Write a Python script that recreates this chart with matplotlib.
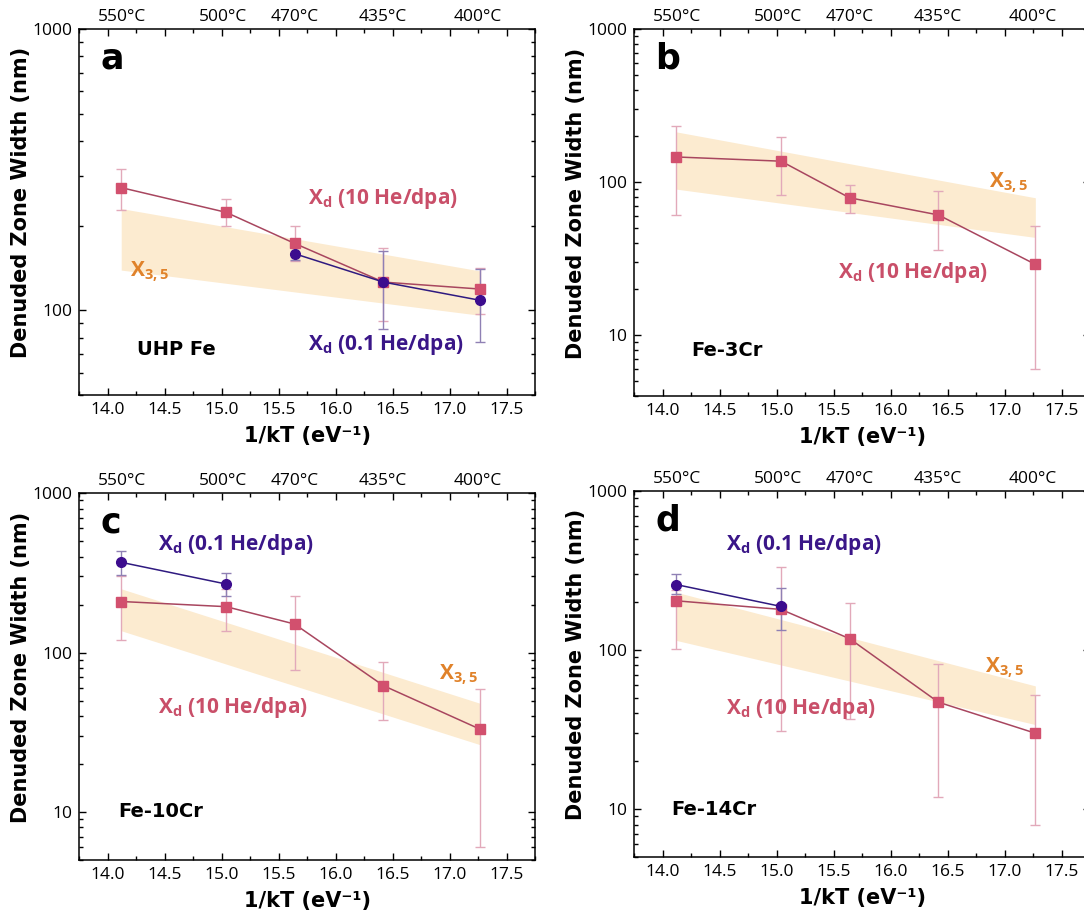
import numpy as np
import matplotlib
matplotlib.use("Agg")
import matplotlib.pyplot as plt
from matplotlib.ticker import LogLocator, FuncFormatter, NullFormatter, MultipleLocator

plt.rcParams["font.family"] = ["Open Sans", "DejaVu Sans"]
plt.rcParams["mathtext.fontset"] = "custom"
plt.rcParams["mathtext.rm"] = "Open Sans:bold"
plt.rcParams["mathtext.it"] = "Open Sans:bold"
plt.rcParams["mathtext.bf"] = "Open Sans:bold"
HEAVY = ["DejaVu Sans"]

# ---- data (1/kT in eV^-1, widths in nm) ----
x_all = [14.12, 15.04, 15.64, 16.42, 17.27]
temp_pos = [14.13, 15.01, 15.64, 16.41, 17.25]
temp_labels = ["550°C", "500°C", "470°C", "435°C", "400°C"]
band_x = [14.12, 17.27]

# a: UHP Fe
a_red = [273, 223, 173, 126, 119]
a_red_lo = [228, 199, 150, 92, 97]
a_red_hi = [317, 249, 199, 166, 141]
a_blue_x = [15.64, 16.42, 17.27]
a_blue = [159, 126, 108.5]
a_blue_lo = [151, 86, 77]
a_blue_hi = [168, 162, 140]
a_band_hi = [230, 138]
a_band_lo = [139, 96]

# b: Fe-3Cr
b_red = [146, 137, 79, 61, 29]
b_red_lo = [61, 82, 63, 36, 6]
b_red_hi = [231, 196, 96, 87, 52]
b_band_hi = [213, 79]
b_band_lo = [90, 43.5]

# c: Fe-10Cr
c_red = [209, 194, 151, 62, 33]
c_red_lo = [120, 137, 78, 38, 6]
c_red_hi = [300, 250, 225, 87, 59]
c_blue_x = [14.12, 15.04]
c_blue = [368, 269]
c_blue_lo = [306, 226]
c_blue_hi = [435, 314]
c_band_hi = [251, 48]
c_band_lo = [137, 26.4]

# d: Fe-14Cr
d_red = [204, 180, 118, 47, 30]
d_red_lo = [102, 31, 37, 12, 8]
d_red_hi = [240, 331, 198, 82, 52]
d_blue_x = [14.12, 15.04]
d_blue = [258, 188]
d_blue_lo = [225, 133]
d_blue_hi = [302, 245]
d_band_hi = [231, 59.5]
d_band_lo = [115, 34]

RED_M = "#d2506e"
RED_L = "#a8465f"
RED_E = "#e2a9ba"
RED_T = "#c94f69"
BLUE_M = "#3c0c8e"
BLUE_L = "#2f1a80"
BLUE_E = "#8f80b4"
BLUE_T = "#3a1688"
ORANGE = "#e0822a"
BAND = "#fcebd0"


def errs(y, lo, hi):
    y = np.asarray(y, float)
    return [y - np.asarray(lo), np.asarray(hi) - y]


def panel(ax, letter, name, ylim, red, red_lo, red_hi, band_hi, band_lo,
          blue_x=None, blue=None, blue_lo=None, blue_hi=None):
    ax.set_yscale("log")
    ax.fill_between(band_x, band_lo, band_hi, color=BAND, lw=0, zorder=1)
    ax.errorbar(x_all, red, yerr=errs(red, red_lo, red_hi), fmt="none",
                ecolor=RED_E, elinewidth=1.0, capsize=3.5, capthick=1.0, zorder=2)
    if blue is not None:
        ax.errorbar(blue_x, blue, yerr=errs(blue, blue_lo, blue_hi), fmt="none",
                    ecolor=BLUE_E, elinewidth=1.0, capsize=3.5, capthick=1.0, zorder=2)
    ax.plot(x_all, red, color=RED_L, lw=1.1, marker="s", ms=6.5,
            mfc=RED_M, mec=RED_M, zorder=4)
    if blue is not None:
        ax.plot(blue_x, blue, color=BLUE_L, lw=1.1, marker="o", ms=7,
                mfc=BLUE_M, mec=BLUE_M, zorder=5)

    ax.set_xlim(13.75, 17.75)
    ax.set_ylim(*ylim)
    ax.xaxis.set_major_locator(MultipleLocator(0.5))
    ax.xaxis.set_minor_locator(MultipleLocator(0.25))
    ax.xaxis.set_major_formatter(FuncFormatter(lambda v, _: f"{v:.1f}"))
    ax.yaxis.set_major_locator(LogLocator(base=10))
    ax.yaxis.set_minor_locator(LogLocator(base=10, subs=np.arange(2, 10)))
    ax.yaxis.set_major_formatter(FuncFormatter(lambda v, _: f"{v:g}"))
    ax.yaxis.set_minor_formatter(NullFormatter())
    ax.tick_params(which="both", direction="in", top=True, right=True,
                   width=1.0, labelsize=12.5, pad=5)
    ax.tick_params(which="major", length=5)
    ax.tick_params(which="minor", length=3)
    for s in ax.spines.values():
        s.set_linewidth(1.1)

    sec = ax.secondary_xaxis("top")
    sec.set_xticks(temp_pos, labels=temp_labels)
    sec.tick_params(length=0, labelsize=12.5, pad=3)
    sec.spines["top"].set_visible(False)

    ax.set_xlabel("1/kT (eV⁻¹)", fontsize=15, fontweight="bold",
                  family=HEAVY, labelpad=6)
    ax.set_ylabel("Denuded Zone Width (nm)", fontsize=15, fontweight="bold",
                  family=HEAVY)
    ax.yaxis.set_label_coords(-0.105, 0.525)
    ax.text(0.046, 0.893, letter, transform=ax.transAxes, fontsize=25,
            fontweight="bold", family=HEAVY, ha="left", va="baseline")
    ax.text(name[1], name[2], name[0], transform=ax.transAxes, fontsize=14,
            fontweight="bold", family=HEAVY, ha="left", va="baseline")


fig = plt.figure(figsize=(10.84, 9.15), dpi=100)
ax_a = fig.add_axes([0.0729, 0.5683, 0.4207, 0.400])
ax_b = fig.add_axes([0.5849, 0.5672, 0.4207, 0.401])
ax_c = fig.add_axes([0.0729, 0.0601, 0.4207, 0.401])
ax_d = fig.add_axes([0.5849, 0.0634, 0.4207, 0.400])

panel(ax_a, "a", ("UHP Fe", 0.128, 0.109), (50, 1000), a_red, a_red_lo, a_red_hi,
      a_band_hi, a_band_lo, a_blue_x, a_blue, a_blue_lo, a_blue_hi)
panel(ax_b, "b", ("Fe-3Cr", 0.125, 0.109), (4, 1000), b_red, b_red_lo, b_red_hi,
      b_band_hi, b_band_lo)
panel(ax_c, "c", ("Fe-10Cr", 0.087, 0.118), (5, 1000), c_red, c_red_lo, c_red_hi,
      c_band_hi, c_band_lo, c_blue_x, c_blue, c_blue_lo, c_blue_hi)
panel(ax_d, "d", ("Fe-14Cr", 0.082, 0.115), (5, 1000), d_red, d_red_lo, d_red_hi,
      d_band_hi, d_band_lo, d_blue_x, d_blue, d_blue_lo, d_blue_hi)

lab = dict(fontsize=15, fontweight="bold", ha="left", va="baseline")
xd10 = r"X$_\mathrm{d}$ (10 He/dpa)"
xd01 = r"X$_\mathrm{d}$ (0.1 He/dpa)"
x35 = r"X$_\mathrm{3,5}$"

ax_a.text(15.76, 239, xd10, color=RED_T, **lab)
ax_a.text(15.76, 72, xd01, color=BLUE_T, **lab)
ax_a.text(14.20, 132, x35, color=ORANGE, **lab)

ax_b.text(15.54, 23.5, xd10, color=RED_T, **lab)
ax_b.text(16.86, 93, x35, color=ORANGE, **lab)

ax_c.text(14.44, 440, xd01, color=BLUE_T, **lab)
ax_c.text(14.44, 41.7, xd10, color=RED_T, **lab)
ax_c.text(16.91, 67.5, x35, color=ORANGE, **lab)

ax_d.text(14.56, 427, xd01, color=BLUE_T, **lab)
ax_d.text(14.56, 39.4, xd10, color=RED_T, **lab)
ax_d.text(16.83, 72, x35, color=ORANGE, **lab)

fig.savefig("out.png", dpi=100)
